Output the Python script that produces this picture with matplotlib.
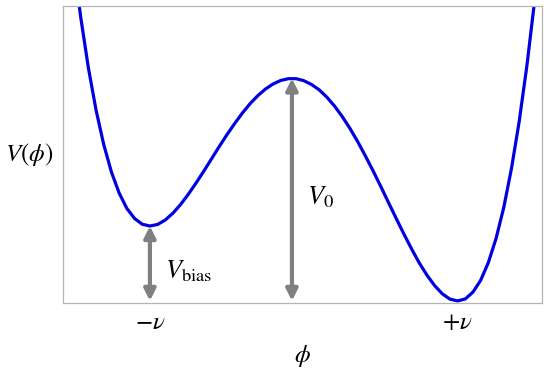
import numpy as np
import matplotlib
matplotlib.use('Agg')
import matplotlib.pyplot as plt

plt.rcParams['mathtext.fontset'] = 'stix'
plt.rcParams['font.family'] = ['Liberation Serif', 'DejaVu Serif']

# field value phi in units of v, and potential in units of V0
phi = [-1.50, -1.45, -1.40, -1.35, -1.30, -1.25, -1.20, -1.15, -1.10, -1.05,
       -1.00, -0.95, -0.90, -0.85, -0.80, -0.75, -0.70, -0.65, -0.60, -0.55,
       -0.50, -0.45, -0.40, -0.35, -0.30, -0.25, -0.20, -0.15, -0.10, -0.05,
       0.00, 0.05, 0.10, 0.15, 0.20, 0.25, 0.30, 0.35, 0.40, 0.45,
       0.50, 0.55, 0.60, 0.65, 0.70, 0.75, 0.80, 0.85, 0.90, 0.95,
       1.00, 1.05, 1.10, 1.15, 1.20, 1.25, 1.30, 1.35, 1.40, 1.45,
       1.50, 1.55]
potential = [1.544, 1.274, 1.046, 0.856, 0.701, 0.578, 0.484, 0.415, 0.370, 0.344,
             0.336, 0.343, 0.363, 0.394, 0.433, 0.479, 0.529, 0.582, 0.637, 0.692,
             0.745, 0.795, 0.842, 0.884, 0.920, 0.950, 0.973, 0.989, 0.997, 0.997,
             0.988, 0.971, 0.947, 0.914, 0.874, 0.827, 0.774, 0.715, 0.651, 0.584,
             0.514, 0.442, 0.371, 0.301, 0.234, 0.171, 0.116, 0.069, 0.032, 0.008,
             0.000, 0.009, 0.040, 0.093, 0.173, 0.281, 0.420, 0.595, 0.805, 1.055,
             1.345, 1.680]

tick_pos = [-1, 1]
tick_labels = [r'$-\nu$', r'$+\nu$']

# arrows: (x position, top value)
bias_x, bias_top = -1.0, 0.336
barrier_x, barrier_top = -0.077, 0.998

fig = plt.figure(figsize=(5.5, 3.75), dpi=100)
ax = fig.add_axes([0.1145, 0.1928, 0.8709, 0.7912])

ax.plot(phi, potential, color='#0000e0', lw=2.3, solid_capstyle='round')

arrow_kw = dict(arrowstyle='<|-|>', color='#808080', lw=3, mutation_scale=17,
                shrinkA=0, shrinkB=0)
ax.annotate('', xy=(bias_x, bias_top), xytext=(bias_x, 0), arrowprops=arrow_kw)
ax.annotate('', xy=(barrier_x, barrier_top), xytext=(barrier_x, 0), arrowprops=arrow_kw)

ax.text(bias_x + 0.1, 0.135, r'$V_{\mathrm{bias}}$', fontsize=19, va='center', ha='left')
ax.text(barrier_x + 0.1, 0.465, r'$V_0$', fontsize=19, va='center', ha='left')

ax.set_xlim(-1.565, 1.548)
ax.set_ylim(-0.008, 1.323)
ax.set_xticks(tick_pos)
ax.set_xticklabels(tick_labels, fontsize=18)
ax.set_yticks([])
ax.tick_params(axis='x', length=0, pad=7)

for s in ax.spines.values():
    s.set_color('#b4b4b4')
    s.set_linewidth(0.9)

ax.set_xlabel(r'$\phi$', fontsize=18, labelpad=6)
ax.set_ylabel(r'$V(\phi)$', fontsize=18, rotation=0, va='center', ha='center', labelpad=24)

fig.savefig('out.png', dpi=100)
